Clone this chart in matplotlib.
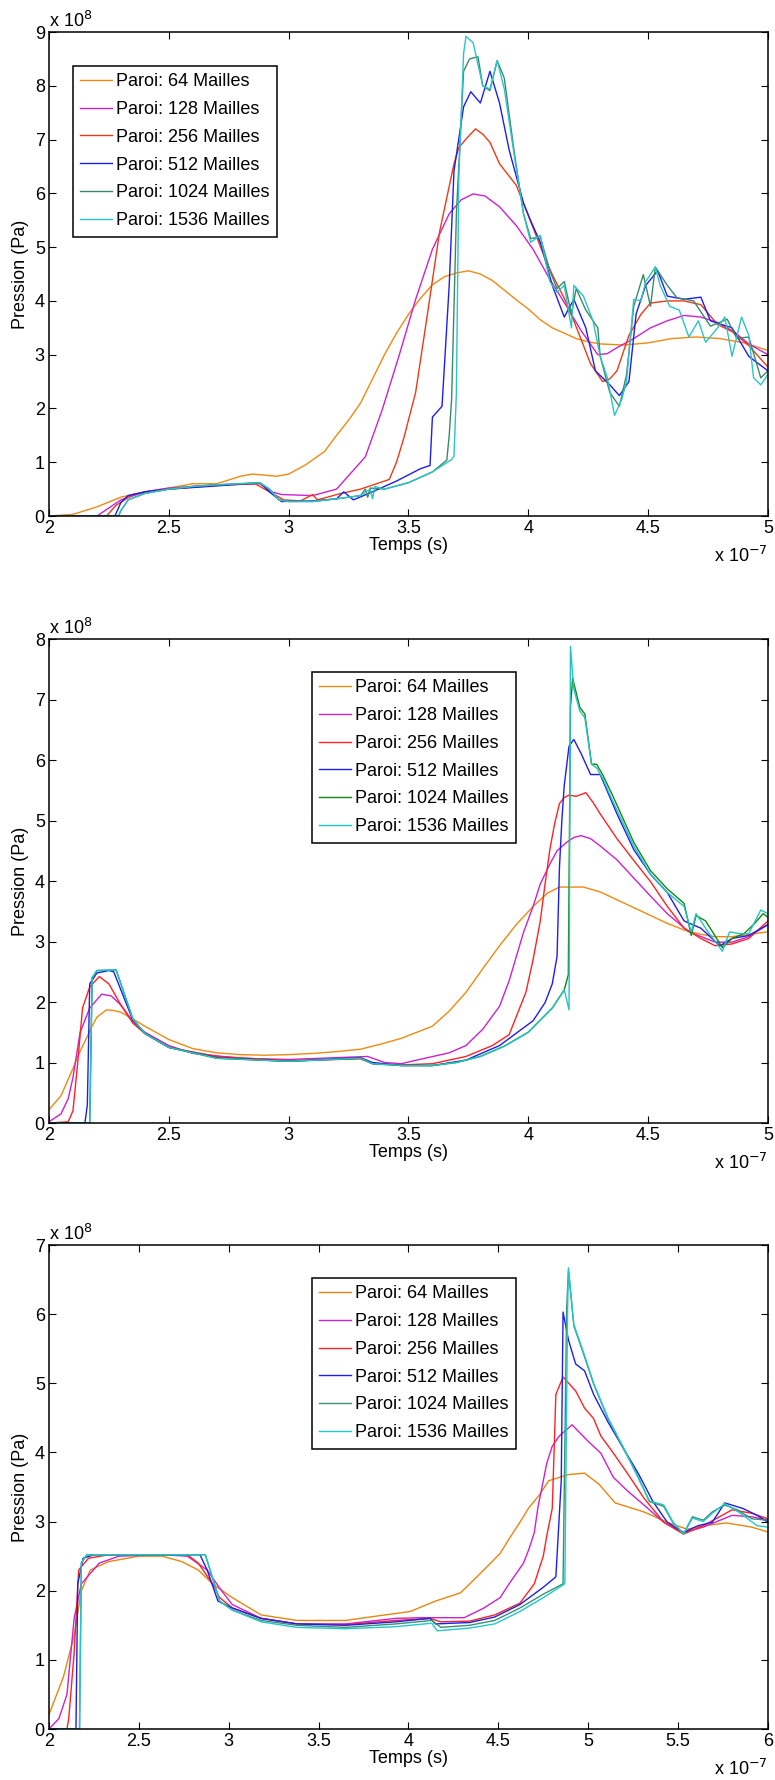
import numpy as np
import matplotlib
matplotlib.use("Agg")
import matplotlib.pyplot as plt

plt.rcParams['font.family'] = ['Liberation Sans', 'DejaVu Sans']

labels = ["Paroi: 64 Mailles", "Paroi: 128 Mailles", "Paroi: 256 Mailles",
          "Paroi: 512 Mailles", "Paroi: 1024 Mailles", "Paroi: 1536 Mailles"]

# ---------- panel 1 (t in 1e-7 s, p in 1e8 Pa) ----------
a64_t = [2.0, 2.1, 2.2, 2.3, 2.4, 2.5, 2.6, 2.7, 2.8, 2.85, 2.95, 3.0, 3.07, 3.15, 3.2, 3.25,
         3.3, 3.35, 3.4, 3.45, 3.5, 3.55, 3.6, 3.65, 3.7, 3.75, 3.8, 3.85, 3.9, 3.95, 4.0,
         4.05, 4.1, 4.15, 4.2, 4.25, 4.3, 4.4, 4.5, 4.6, 4.7, 4.8, 4.9, 5.0]
a64_p = [0, 0.03, 0.17, 0.35, 0.45, 0.52, 0.6, 0.6, 0.74, 0.78, 0.74, 0.78, 0.95, 1.2, 1.5, 1.78,
         2.1, 2.55, 3.0, 3.4, 3.75, 4.05, 4.3, 4.45, 4.52, 4.56, 4.5, 4.38, 4.2, 4.02, 3.85,
         3.65, 3.5, 3.4, 3.3, 3.24, 3.2, 3.18, 3.22, 3.3, 3.33, 3.3, 3.22, 3.08]

a128_t = [2.0, 2.2, 2.25, 2.3, 2.4, 2.5, 2.7, 2.88, 2.93, 2.97, 3.1, 3.2, 3.32, 3.39, 3.46, 3.53,
          3.6, 3.67, 3.72, 3.77, 3.82, 3.88, 3.95, 4.02, 4.09, 4.16, 4.22, 4.29, 4.33, 4.37,
          4.44, 4.51, 4.58, 4.65, 4.72, 4.79, 4.86, 4.92, 5.0]
a128_p = [0, 0, 0.15, 0.3, 0.45, 0.52, 0.58, 0.6, 0.45, 0.4, 0.38, 0.5, 1.1, 1.97, 2.97, 4.03,
          4.96, 5.62, 5.88, 5.99, 5.95, 5.75, 5.4, 4.96, 4.4, 3.9, 3.45, 3.0, 3.02, 3.13,
          3.3, 3.5, 3.63, 3.73, 3.7, 3.6, 3.42, 3.2, 3.0]

a256_t = [2.0, 2.24, 2.28, 2.35, 2.5, 2.7, 2.86, 2.92, 2.98, 3.05, 3.1, 3.12, 3.21, 3.3, 3.42,
          3.45, 3.48, 3.53, 3.575, 3.63, 3.69, 3.71, 3.74, 3.78, 3.81, 3.84, 3.88, 3.95, 4.02,
          4.06, 4.1, 4.15, 4.19, 4.26, 4.31, 4.34, 4.37, 4.42, 4.47, 4.51, 4.58, 4.65, 4.72,
          4.79, 4.85, 4.92, 5.0]
a256_p = [0, 0, 0.2, 0.4, 0.5, 0.57, 0.6, 0.45, 0.3, 0.28, 0.4, 0.3, 0.41, 0.5, 0.68,
          1.0, 1.44, 2.3, 3.63, 5.29, 6.55, 6.85, 7.01, 7.2, 7.1, 6.95, 6.55, 6.15, 5.36,
          4.9, 4.49, 4.05, 3.63, 2.83, 2.5, 2.55, 2.7, 3.36, 3.75, 3.96, 4.0, 4.0, 3.93,
          3.56, 3.43, 3.17, 2.77]

a512_t = [2.0, 2.275, 2.3, 2.33, 2.4, 2.5, 2.7, 2.88, 2.92, 2.97, 3.1, 3.2, 3.23, 3.27, 3.35,
          3.45, 3.55, 3.59, 3.6, 3.64, 3.67, 3.69, 3.73, 3.76, 3.8, 3.84, 3.88, 3.92, 3.98,
          4.01, 4.05, 4.1, 4.15, 4.19, 4.24, 4.28, 4.34, 4.38, 4.42, 4.45, 4.49, 4.54, 4.58,
          4.65, 4.72, 4.76, 4.85, 4.92, 5.0]
a512_p = [0, 0, 0.25, 0.38, 0.45, 0.5, 0.56, 0.62, 0.45, 0.27, 0.28, 0.32, 0.45, 0.3, 0.45,
          0.65, 0.88, 0.94, 1.84, 2.04, 4.29, 6.42, 7.61, 7.89, 7.68, 8.27, 7.68, 6.81, 5.82,
          5.49, 5.09, 4.29, 3.7, 4.03, 3.5, 2.7, 2.44, 2.24, 2.5, 3.76, 4.29, 4.56, 4.09,
          4.03, 4.07, 3.63, 3.5, 2.97, 2.7]

a1024_t = [2.0, 2.29, 2.3, 2.33, 2.4, 2.5, 2.6, 2.7, 2.88, 2.92, 2.96, 3.0, 3.1, 3.2, 3.3,
           3.32, 3.33, 3.34, 3.4, 3.5, 3.6, 3.66, 3.67, 3.68, 3.7, 3.73, 3.755, 3.79, 3.81,
           3.84, 3.87, 3.9, 3.94, 3.98, 4.01, 4.05, 4.09, 4.12, 4.15, 4.18, 4.2, 4.24, 4.29,
           4.3, 4.34, 4.38, 4.41, 4.44, 4.48, 4.51, 4.53, 4.58, 4.62, 4.69, 4.76, 4.83,
           4.87, 4.92, 4.97, 5.0]
a1024_p = [0, 0, 0.1, 0.3, 0.42, 0.5, 0.55, 0.58, 0.62, 0.5, 0.3, 0.27, 0.27, 0.32, 0.38,
           0.5, 0.35, 0.52, 0.5, 0.62, 0.82, 1.04, 1.5, 2.17, 5.62, 8.27, 8.5, 8.54, 8.0,
           7.91, 8.47, 8.14, 6.81, 5.62, 5.16, 5.19, 4.56, 4.23, 4.36, 3.76, 4.23, 3.83, 3.5,
           2.97, 2.3, 2.04, 2.63, 3.9, 4.49, 3.9, 4.63, 4.29, 4.06, 4.0, 3.53, 3.66,
           3.3, 3.33, 2.57, 2.7]

a1536_t = [2.0, 2.29, 2.3, 2.33, 2.4, 2.5, 2.6, 2.7, 2.88, 2.92, 2.96, 3.0, 3.1, 3.2, 3.3,
           3.34, 3.35, 3.36, 3.4, 3.5, 3.6, 3.68, 3.69, 3.7, 3.71, 3.73, 3.74, 3.77, 3.79,
           3.81, 3.84, 3.87, 3.9, 3.94, 3.98, 4.01, 4.05, 4.09, 4.12, 4.15, 4.18, 4.19, 4.23,
           4.27, 4.3, 4.33, 4.36, 4.39, 4.41, 4.44, 4.47, 4.49, 4.53, 4.55, 4.59, 4.63, 4.67,
           4.71, 4.74, 4.79, 4.82, 4.85, 4.89, 4.92, 4.94, 4.97, 5.0]
a1536_p = [0, 0, 0.1, 0.3, 0.42, 0.5, 0.55, 0.58, 0.62, 0.5, 0.3, 0.27, 0.27, 0.32, 0.38,
           0.5, 0.32, 0.55, 0.5, 0.62, 0.82, 1.05, 1.11, 2.3, 6.28, 8.6, 8.92, 8.8, 8.4,
           8.0, 7.94, 8.47, 7.94, 6.75, 5.62, 5.09, 5.22, 4.36, 4.16, 4.29, 3.5, 4.29, 4.09,
           3.63, 2.97, 2.57, 1.87, 2.17, 2.5, 4.03, 4.0, 4.36, 4.63, 4.29, 3.9, 3.83, 3.33,
           3.63, 3.23, 3.5, 3.7, 2.97, 3.7, 3.36, 2.57, 2.44, 2.63]

# ---------- panel 2 ----------
b64_t = [2.0, 2.05, 2.1, 2.12, 2.15, 2.18, 2.2, 2.24, 2.27, 2.3, 2.35, 2.4, 2.5, 2.6, 2.7, 2.8,
         2.9, 3.0, 3.1, 3.2, 3.3, 3.4, 3.47, 3.6, 3.67, 3.74, 3.81, 3.88, 3.95, 4.02, 4.08,
         4.13, 4.23, 4.3, 4.37, 4.44, 4.51, 4.58, 4.65, 4.72, 4.78, 4.85, 5.0]
b64_p = [0.22, 0.45, 0.9, 1.1, 1.35, 1.6, 1.75, 1.87, 1.86, 1.83, 1.72, 1.6, 1.38, 1.23, 1.16, 1.13,
         1.12, 1.13, 1.15, 1.18, 1.22, 1.32, 1.4, 1.6, 1.85, 2.16, 2.55, 2.93, 3.28, 3.58, 3.8,
         3.9, 3.9, 3.82, 3.69, 3.56, 3.43, 3.3, 3.19, 3.12, 3.08, 3.08, 3.16]

b128_t = [2.0, 2.05, 2.08, 2.1, 2.13, 2.17, 2.22, 2.26, 2.3, 2.35, 2.4, 2.5, 2.6, 2.8, 3.0,
          3.2, 3.33, 3.4, 3.47, 3.535, 3.67, 3.74, 3.81, 3.88, 3.92, 3.95, 3.98, 4.02, 4.05,
          4.09, 4.12, 4.16, 4.19, 4.22, 4.26, 4.3, 4.37, 4.44, 4.51, 4.58, 4.67, 4.78, 4.85,
          4.92, 5.0]
b128_p = [0.02, 0.15, 0.4, 0.75, 1.5, 1.9, 2.13, 2.1, 1.95, 1.68, 1.5, 1.28, 1.15, 1.07, 1.05,
          1.08, 1.1, 1.0, 0.98, 1.04, 1.16, 1.28, 1.55, 1.93, 2.35, 2.75, 3.15, 3.58, 3.95,
          4.28, 4.5, 4.64, 4.72, 4.75, 4.7, 4.58, 4.35, 4.05, 3.75, 3.46, 3.16, 2.99, 2.99,
          3.08, 3.28]

b256_t = [2.0, 2.08, 2.1, 2.12, 2.14, 2.17, 2.21, 2.25, 2.3, 2.35, 2.4, 2.5, 2.7, 3.0, 3.3,
          3.35, 3.47, 3.6, 3.74, 3.85, 3.92, 3.99, 4.02, 4.05, 4.07, 4.09, 4.11, 4.13, 4.15,
          4.17, 4.2, 4.24, 4.27, 4.3, 4.37, 4.44, 4.51, 4.58, 4.65, 4.72, 4.78, 4.85, 4.92, 5.0]
b256_p = [0, 0.02, 0.2, 1.0, 1.9, 2.25, 2.42, 2.3, 1.95, 1.65, 1.48, 1.25, 1.1, 1.03, 1.06,
          0.98, 0.96, 0.98, 1.1, 1.28, 1.46, 2.16, 2.7, 3.34, 3.95, 4.52, 4.95, 5.28, 5.38,
          5.42, 5.4, 5.46, 5.3, 5.11, 4.7, 4.34, 3.99, 3.58, 3.22, 3.05, 2.93, 2.96, 3.05, 3.34]

b512_t = [2.0, 2.15, 2.16, 2.17, 2.2, 2.25, 2.27, 2.3, 2.35, 2.4, 2.5, 2.7, 3.0, 3.3, 3.35,
          3.47, 3.6, 3.74, 3.88, 4.02, 4.07, 4.1, 4.12, 4.13, 4.14, 4.15, 4.17, 4.19, 4.22,
          4.26, 4.3, 4.37, 4.44, 4.51, 4.58, 4.65, 4.72, 4.8, 4.85, 4.92, 5.0]
b512_p = [0, 0, 0.3, 2.3, 2.48, 2.52, 2.5, 2.2, 1.7, 1.48, 1.25, 1.08, 1.02, 1.08, 1.0,
          0.95, 0.95, 1.04, 1.28, 1.69, 1.99, 2.3, 2.75, 4.22, 5.0, 5.58, 6.23, 6.34, 6.11,
          5.76, 5.76, 5.11, 4.52, 4.11, 3.81, 3.34, 3.22, 2.93, 3.05, 3.1, 3.28]

b1024_t = [2.0, 2.17, 2.18, 2.2, 2.28, 2.3, 2.35, 2.4, 2.5, 2.7, 3.0, 3.3, 3.35, 3.47, 3.6,
           3.7, 3.8, 3.9, 4.0, 4.05, 4.1, 4.15, 4.167, 4.176, 4.185, 4.215, 4.236, 4.264,
           4.285, 4.31, 4.35, 4.44, 4.51, 4.58, 4.65, 4.68, 4.7, 4.74, 4.81, 4.85, 4.9, 4.94,
           4.98, 5.0]
b1024_p = [0, 0, 2.4, 2.52, 2.53, 2.3, 1.72, 1.48, 1.25, 1.07, 1.02, 1.07, 0.98, 0.95, 0.95,
           1.0, 1.1, 1.27, 1.5, 1.7, 1.9, 2.2, 2.45, 6.87, 7.35, 6.87, 6.76, 5.93,
           5.93, 5.76, 5.43, 4.64, 4.17, 3.87, 3.63, 3.1, 3.43, 3.34, 2.9, 3.05, 3.13, 3.28,
           3.46, 3.4]

b1536_t = [2.0, 2.17, 2.18, 2.2, 2.28, 2.3, 2.35, 2.4, 2.5, 2.7, 3.0, 3.3, 3.35, 3.47, 3.6,
           3.7, 3.8, 3.9, 4.0, 4.05, 4.1, 4.15, 4.17, 4.176, 4.19, 4.215, 4.236, 4.264, 4.285,
           4.31, 4.35, 4.44, 4.51, 4.58, 4.65, 4.68, 4.7, 4.75, 4.81, 4.84, 4.88, 4.92, 4.97, 5.0]
b1536_p = [0, 0, 2.4, 2.52, 2.53, 2.3, 1.72, 1.48, 1.25, 1.07, 1.02, 1.07, 0.98, 0.95, 0.95,
           1.0, 1.1, 1.27, 1.5, 1.7, 1.9, 2.2, 1.87, 7.88, 7.17, 6.81, 6.7, 5.93, 5.87,
           5.7, 5.34, 4.58, 4.11, 3.81, 3.58, 3.16, 3.46, 3.16, 2.84, 3.16, 3.13, 3.13, 3.52, 3.46]

# ---------- panel 3 ----------
c64_t = [2.0, 2.08, 2.14, 2.18, 2.23, 2.33, 2.5, 2.63, 2.74, 2.83, 2.91, 3.02, 3.18, 3.38,
         3.65, 3.87, 4.01, 4.15, 4.29, 4.4, 4.45, 4.51, 4.56, 4.62, 4.67, 4.73, 4.78, 4.89,
         4.98, 5.06, 5.15, 5.31, 5.44, 5.55, 5.64, 5.77, 5.91, 6.0]
c64_p = [0.21, 0.75, 1.35, 2.0, 2.3, 2.42, 2.5, 2.5, 2.42, 2.3, 2.1, 1.9, 1.65, 1.57,
         1.57, 1.65, 1.7, 1.85, 1.97, 2.25, 2.38, 2.54, 2.75, 2.99, 3.2, 3.39, 3.59, 3.68,
         3.7, 3.54, 3.27, 3.14, 2.99, 2.89, 2.94, 2.98, 2.92, 2.85]

c128_t = [2.0, 2.055, 2.1, 2.14, 2.18, 2.28, 2.39, 2.63, 2.77, 2.88, 2.96, 3.02, 3.18, 3.38,
          3.65, 3.93, 4.07, 4.31, 4.42, 4.51, 4.56, 4.6, 4.64, 4.67, 4.7, 4.72, 4.75, 4.77,
          4.8, 4.84, 4.91, 5.0, 5.07, 5.14, 5.22, 5.31, 5.42, 5.53, 5.64, 5.8, 5.91, 6.0]
c128_p = [0, 0.15, 0.5, 1.6, 2.1, 2.4, 2.5, 2.52, 2.5, 2.3, 2.0, 1.8, 1.6, 1.52,
          1.52, 1.6, 1.61, 1.61, 1.75, 1.9, 2.1, 2.25, 2.4, 2.6, 2.84, 3.2, 3.59, 3.85,
          4.09, 4.24, 4.4, 4.16, 3.99, 3.64, 3.44, 3.24, 2.99, 2.84, 2.92, 3.09, 3.07, 3.02]

c256_t = [2.0, 2.1, 2.11, 2.14, 2.165, 2.22, 2.33, 2.77, 2.83, 2.91, 2.95, 3.02, 3.18, 3.38,
          3.65, 3.93, 4.12, 4.18, 4.34, 4.48, 4.62, 4.7, 4.75, 4.77, 4.8, 4.81, 4.82, 4.86,
          4.93, 4.98, 5.03, 5.07, 5.14, 5.22, 5.31, 5.42, 5.53, 5.64, 5.8, 5.91, 6.0]
c256_p = [0, 0, 0.15, 1.1, 2.3, 2.47, 2.52, 2.52, 2.4, 2.1, 1.9, 1.75, 1.6, 1.52,
          1.51, 1.57, 1.6, 1.55, 1.56, 1.65, 1.82, 2.1, 2.5, 2.8, 3.19, 4.0, 4.84, 5.09,
          4.89, 4.64, 4.49, 4.24, 3.99, 3.69, 3.34, 2.99, 2.82, 2.94, 3.17, 3.12, 3.04]

c512_t = [2.0, 2.15, 2.16, 2.19, 2.25, 2.84, 2.88, 2.94, 3.02, 3.18, 3.38, 3.65, 3.93, 4.12,
          4.15, 4.34, 4.48, 4.62, 4.75, 4.82, 4.85, 4.86, 4.89, 4.93, 4.98, 5.03, 5.11, 5.2,
          5.28, 5.36, 5.44, 5.53, 5.61, 5.69, 5.76, 5.86, 5.94, 6.0]
c512_p = [0, 0, 2.1, 2.47, 2.52, 2.52, 2.3, 1.85, 1.75, 1.6, 1.52, 1.5, 1.55, 1.6,
          1.52, 1.54, 1.62, 1.8, 2.05, 2.2, 3.59, 6.03, 5.63, 5.28, 5.18, 4.84, 4.44, 4.04,
          3.69, 3.29, 2.99, 2.84, 2.94, 2.99, 3.27, 3.19, 3.09, 2.99]

c1024_t = [2.0, 2.17, 2.18, 2.21, 2.87, 2.95, 3.02, 3.18, 3.38, 3.65, 3.93, 4.13, 4.18, 4.34,
           4.48, 4.62, 4.75, 4.86, 4.88, 4.89, 4.92, 4.98, 5.03, 5.11, 5.2, 5.28, 5.34, 5.42,
           5.47, 5.53, 5.58, 5.64, 5.69, 5.76, 5.83, 5.91, 6.0]
c1024_p = [0, 0, 2.4, 2.52, 2.52, 1.85, 1.72, 1.57, 1.5, 1.47, 1.52, 1.57, 1.47, 1.5,
           1.57, 1.75, 1.95, 2.1, 6.08, 6.63, 5.83, 5.38, 4.99, 4.49, 4.04, 3.64, 3.29, 3.22,
           2.99, 2.82, 3.07, 3.02, 3.14, 3.24, 3.17, 3.04, 3.02]

c1536_t = [2.0, 2.17, 2.18, 2.21, 2.87, 2.95, 3.02, 3.18, 3.38, 3.65, 3.93, 4.13, 4.16, 4.34,
           4.48, 4.62, 4.75, 4.87, 4.885, 4.89, 4.92, 4.98, 5.03, 5.11, 5.2, 5.28, 5.34, 5.42,
           5.47, 5.53, 5.58, 5.64, 5.69, 5.76, 5.83, 5.94, 6.0]
c1536_p = [0, 0, 2.4, 2.52, 2.52, 1.85, 1.72, 1.55, 1.47, 1.45, 1.48, 1.53, 1.42, 1.46,
           1.52, 1.7, 1.9, 2.1, 6.0, 6.67, 5.85, 5.4, 5.0, 4.5, 4.05, 3.62, 3.3, 3.24,
           3.0, 2.82, 3.05, 3.0, 3.12, 3.26, 3.15, 2.94, 2.92]

panels = [
    dict(series=[(a64_t, a64_p), (a128_t, a128_p), (a256_t, a256_p), (a512_t, a512_p),
                 (a1024_t, a1024_p), (a1536_t, a1536_p)],
         xlim=(2, 5), ylim=(0, 9),
         colors=['#EE8A12', '#CC22CC', '#EC3A18', '#1E1EF0', '#3A8A6A', '#2CC4C4'],
         leg=(0.0334, 0.930)),
    dict(series=[(b64_t, b64_p), (b128_t, b128_p), (b256_t, b256_p), (b512_t, b512_p),
                 (b1024_t, b1024_p), (b1536_t, b1536_p)],
         xlim=(2, 5), ylim=(0, 8),
         colors=['#EE8A12', '#CC22CC', '#FF2222', '#1E1EF0', '#118811', '#22C4C4'],
         leg=(0.366, 0.932)),
    dict(series=[(c64_t, c64_p), (c128_t, c128_p), (c256_t, c256_p), (c512_t, c512_p),
                 (c1024_t, c1024_p), (c1536_t, c1536_p)],
         xlim=(2, 6), ylim=(0, 7),
         colors=['#E8860E', '#CC22CC', '#FF2222', '#1E1EF0', '#3A9070', '#22C8C8'],
         leg=(0.366, 0.932)),
]

fig = plt.figure(figsize=(7.75, 17.8), dpi=100)
bottoms = [0.7101, 0.3691, 0.02865]

for pan, b in zip(panels, bottoms):
    ax = fig.add_axes([0.0632, b, 0.9277, 0.2719])
    for (t, p), c, lab in zip(pan['series'], pan['colors'], labels):
        ax.plot(t, p, color=c, lw=1.0, label=lab)
    ax.set_xlim(*pan['xlim'])
    ax.set_ylim(*pan['ylim'])
    ax.set_xticks(np.arange(pan['xlim'][0], pan['xlim'][1] + 0.01, 0.5))
    ax.set_yticks(np.arange(pan['ylim'][0], pan['ylim'][1] + 0.01, 1))
    ax.xaxis.set_major_formatter(plt.FuncFormatter(lambda v, _: f"{v:g}"))
    ax.yaxis.set_major_formatter(plt.FuncFormatter(lambda v, _: f"{v:g}"))
    ax.tick_params(direction='in', length=5, width=0.8, top=True, right=True,
                   labelsize=13, pad=3)
    for s in ax.spines.values():
        s.set_linewidth(1.1)
    ax.set_xlabel("Temps (s)", fontsize=13, labelpad=0)
    ax.set_ylabel("Pression (Pa)", fontsize=13, labelpad=4)
    ax.text(0.0, 1.002, r"x 10$^{8}$", transform=ax.transAxes, fontsize=13,
            ha='left', va='bottom')
    ax.text(1.0, -0.083, r"x 10$^{-7}$", transform=ax.transAxes, fontsize=13,
            ha='right', va='center')
    ax.legend(loc='upper left', bbox_to_anchor=pan['leg'], borderaxespad=0,
              fontsize=13, frameon=True, fancybox=False, edgecolor='black',
              framealpha=1, handlelength=1.75, handletextpad=0.25,
              labelspacing=0.6, borderpad=0.4).get_frame().set_linewidth(1.1)

fig.savefig("out.png", dpi=100)
